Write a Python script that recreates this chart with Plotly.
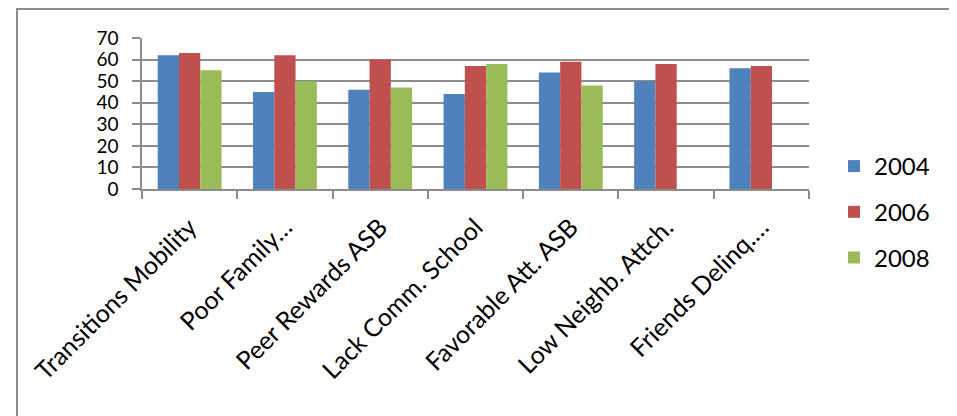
import plotly.graph_objects as go

categories = ["Transitions Mobility", "Poor Family…", "Peer Rewards ASB", "Lack Comm. School",
              "Favorable Att. ASB", "Low Neighb. Attch.", "Friends Delinq.…"]
years = ["2004", "2006", "2008"]
v2004 = [62, 45, 46, 44, 54, 50, 56]
v2006 = [63, 62, 60, 57, 59, 58, 57]
v2008 = [55, 50, 47, 58, 48, None, None]
colors = ["#4F81BD", "#C0504D", "#9BBB59"]
y_ticks = [0, 10, 20, 30, 40, 50, 60, 70]

W, H = 957, 416
OFF = 8  # page body margin
# positions in screenshot pixels
PL, PR, PT, PB = 142, 809, 38, 189
L, R, T = PL - OFF, W - (PR - OFF), PT - OFF
B = H - (PB - OFF)
pw, ph = W - L - R, H - T - B

def px_x(x):
    return (x - OFF - L) / pw

def px_y(y):
    return (PB - y) / ph

FONT = "Lato"
fig = go.Figure()
for i, (name, vals) in enumerate(zip(years, [v2004, v2006, v2008])):
    fig.add_trace(go.Bar(x=categories, y=vals, name=name, marker_color=colors[i],
                         marker_line_width=0, legendgroup=name))

fig.update_layout(
    width=W, height=H,
    margin=dict(l=L, r=R, t=T, b=B, autoexpand=False),
    paper_bgcolor="white", plot_bgcolor="white",
    barmode="group", bargap=0.33, bargroupgap=0,
    font=dict(family=FONT, size=21, color="black"),
    showlegend=True,
    legend=dict(x=px_x(834), y=px_y(144), xanchor="left", yanchor="top",
                font=dict(size=24), tracegroupgap=11.5, traceorder="grouped",
                bgcolor="rgba(0,0,0,0)"),
    xaxis=dict(showgrid=False, showline=True, linecolor="#8c8c8c", linewidth=1.5,
               ticks="outside", tickson="boundaries", ticklen=8, tickcolor="#8c8c8c",
               tickwidth=1.5, tickangle=-45, tickfont=dict(size=25),
               ticklabelstandoff=12),
    yaxis=dict(range=[0, 70], tickvals=y_ticks, showgrid=True, gridcolor="#8c8c8c",
               gridwidth=1.5, showline=True, linecolor="#8c8c8c", linewidth=1.5,
               ticks="outside", ticklen=8, tickcolor="#8c8c8c", tickwidth=1.5,
               tickfont=dict(size=19), zeroline=False, ticklabelstandoff=10),
    shapes=[dict(type="rect", xref="paper", yref="paper",
                 x0=px_x(17), x1=px_x(951), y0=px_y(440), y1=px_y(9),
                 line=dict(color="#8c8c8c", width=2), fillcolor="rgba(0,0,0,0)", layer="below")],
)
fig.write_html("out.html")
